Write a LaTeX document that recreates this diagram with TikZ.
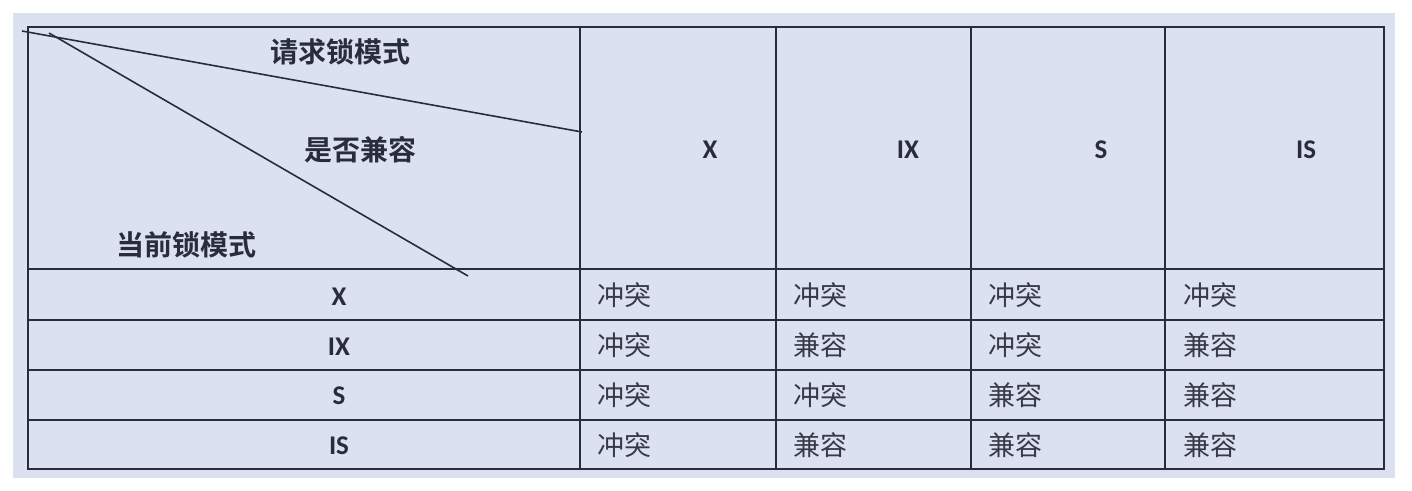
\documentclass[tikz,border=0pt]{standalone}
\usepackage{fontspec}
\newfontfamily\cjk{Noto Sans CJK SC}
\newfontfamily\cjkb{Noto Sans CJK SC Bold}
\newfontfamily\lat{Carlito}
\definecolor{bgc}{RGB}{220,225,242}
\definecolor{linec}{RGB}{40,44,60}
\definecolor{txtc}{RGB}{55,58,70}
\begin{document}
\begin{tikzpicture}[x=1pt,y=-1pt,
  grid/.style={draw=linec,line width=1.7pt},
  diag/.style={draw=linec,line width=1.6pt},
  hdr/.style={inner sep=0pt,text=linec,font=\cjkb\fontsize{28}{30}\selectfont},
  lab/.style={inner sep=0pt,text=linec,text depth=0pt,font=\lat\fontsize{27}{30}\selectfont\bfseries},
  cell/.style={inner sep=0pt,anchor=west,text=txtc,font=\cjk\fontsize{27}{29}\selectfont}]
\useasboundingbox (0,0) rectangle (1412,490);
\fill[white] (0,0) rectangle (1412,490);
\fill[bgc] (13,13) rectangle (1395,478);
% table grid
\draw[grid] (28,27) rectangle (1384,469);
\foreach \yy in {269,320,370,420} \draw[grid] (28,\yy) -- (1384,\yy);
\foreach \xx in {580,776,971,1165} \draw[grid] (\xx,27) -- (\xx,469);
% diagonal lines
\coordinate (d1a) at (22,31);
\coordinate (d1b) at (582,132);
\coordinate (d2a) at (49,33);
\coordinate (d2b) at (468,276);
\draw[diag] (d1a) -- (d1b);
\draw[diag] (d2a) -- (d2b);
% header labels
\node[hdr] (req) at (340,52) {请求锁模式};
\node[hdr] (compat) at (360,150) {是否兼容};
\node[hdr] (cur) at (186,245) {当前锁模式};
% column headers
\node[lab] (cX) at (710,150) {X};
\node[lab] (cIX) at (908,150) {IX};
\node[lab] (cS) at (1101,150) {S};
\node[lab] (cIS) at (1306,150) {IS};
% row headers
\node[lab] (rX) at (339,297) {X};
\node[lab] (rIX) at (339,347) {IX};
\node[lab] (rS) at (339,396) {S};
\node[lab] (rIS) at (339,446) {IS};
% cells
\node[cell] (c11) at (597,295) {冲突};
\node[cell] (c12) at (793,295) {冲突};
\node[cell] (c13) at (988,295) {冲突};
\node[cell] (c14) at (1183,295) {冲突};
\node[cell] (c21) at (597,345) {冲突};
\node[cell] (c22) at (793,345) {兼容};
\node[cell] (c23) at (988,345) {冲突};
\node[cell] (c24) at (1183,345) {兼容};
\node[cell] (c31) at (597,395) {冲突};
\node[cell] (c32) at (793,395) {冲突};
\node[cell] (c33) at (988,395) {兼容};
\node[cell] (c34) at (1183,395) {兼容};
\node[cell] (c41) at (597,445) {冲突};
\node[cell] (c42) at (793,445) {兼容};
\node[cell] (c43) at (988,445) {兼容};
\node[cell] (c44) at (1183,445) {兼容};
\end{tikzpicture}
\end{document}
